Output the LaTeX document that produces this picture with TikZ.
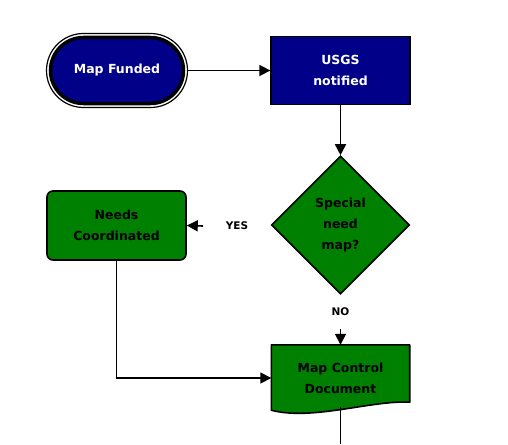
\documentclass[tikz,border=0pt]{standalone}
\usepackage{fontspec}
\setmainfont{DejaVu Sans}
\usetikzlibrary{shapes.geometric,shapes.misc,arrows.meta}
\definecolor{navy}{RGB}{0,0,136}
\definecolor{fgreen}{RGB}{0,128,0}
\tikzset{
  txt/.style={font=\fontsize{12.5}{21}\selectfont\bfseries, align=center, inner sep=0pt},
  arr/.style={line width=1.6pt, -{Triangle[length=11pt,width=11pt]}},
  plain/.style={line width=1.6pt},
  termouter/.style={rounded rectangle, draw=black, line width=1.2pt, fill=white, minimum width=141pt, minimum height=74pt, inner sep=0pt},
  terminal/.style={rounded rectangle, draw=black, line width=3.5pt, fill=navy, text=white, txt, minimum width=133pt, minimum height=66pt},
  bluebox/.style={rectangle, draw=black, line width=1.3pt, fill=navy, text=white, txt, minimum width=139pt, minimum height=68pt},
  greenbox/.style={rectangle, rounded corners=6pt, draw=black, line width=1.6pt, fill=fgreen, text=black, txt, minimum width=139pt, minimum height=69pt},
  decision/.style={diamond, draw=black, line width=1.6pt, fill=fgreen, text=black, txt, minimum width=138pt, minimum height=138pt},
  docnode/.style={rectangle, text=black, txt, minimum width=138pt, minimum height=66pt},
  lbl/.style={font=\fontsize{10.5}{12}\selectfont\bfseries, inner sep=0pt}
}
\begin{document}
\begin{tikzpicture}[x=1pt,y=-1pt]
\useasboundingbox (0,0) rectangle (508,444);
\node[termouter] (mfo) at (117,70.5) {};
\node[terminal] (mf) at (117,70.5) {Map Funded};
\node[bluebox] (usgs) at (340.5,70.5) {USGS\\notified};
\node[decision] (sp) at (340.5,225) {Special\\need\\map?};
\node[greenbox] (nc) at (116.5,225.5) {Needs\\Coordinated};
\node[docnode] (mcd) at (340.5,378) {Map Control\\Document};
\fill[fgreen] (mcd.north west) -- (mcd.north east) -- ([yshift=9pt]mcd.south east)
  .. controls (372,400) and (312,421) .. ([yshift=1pt]mcd.south west) -- cycle;
\draw[black, line width=1.6pt, line join=round] (mcd.north west) -- (mcd.north east) -- ([yshift=9pt]mcd.south east)
  .. controls (372,400) and (312,421) .. ([yshift=1pt]mcd.south west) -- cycle;
\node[docnode] at (mcd) {Map Control\\Document};
\node[lbl] (yes) at (237,226) {YES};
\node[lbl] (no) at (340.5,312) {NO};
\coordinate (ys) at (203,226);
\coordinate (ns) at (340.5,329);
\coordinate (bot) at (340.5,444);
\draw[arr] (mfo.east) -- (usgs.west);
\draw[arr] (usgs.south) -- (sp.north);
\draw[arr] (ys) -- (nc.east);
\draw[arr] (ns) -- (mcd.north);
\draw[arr] (nc.south) |- (mcd.west);
\draw[plain] ([yshift=4pt]mcd.south) -- (bot);
\end{tikzpicture}
\end{document}
